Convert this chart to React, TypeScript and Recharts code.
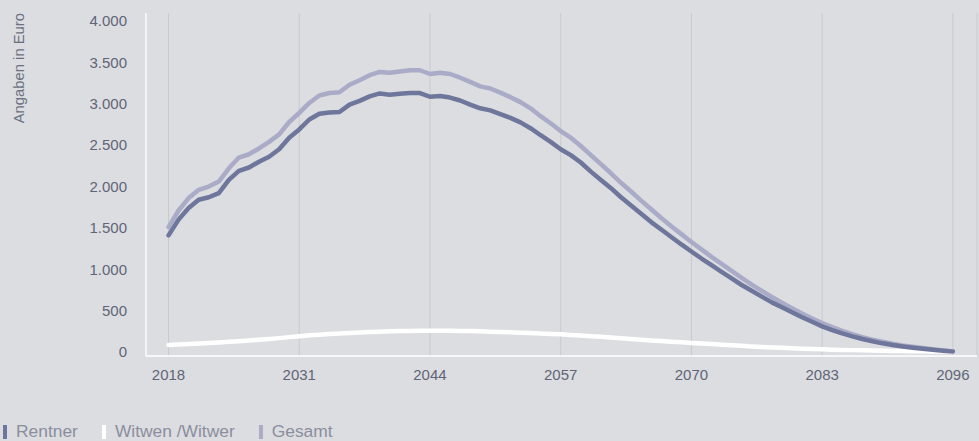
import React from "react"
import { LineChart, Line, XAxis, YAxis, CartesianGrid, Legend } from "recharts"

const years = Array.from({ length: 79 }, (_, i) => 2018 + i)

const rentner = [
  1410, 1600, 1740, 1840, 1870, 1920, 2080, 2190, 2230, 2300,
  2360, 2450, 2590, 2690, 2810, 2880, 2895, 2900, 2990, 3035,
  3090, 3125, 3110, 3120, 3130, 3130, 3085, 3095, 3075, 3040,
  2990, 2945, 2920, 2875, 2830, 2775, 2705, 2620, 2540, 2450,
  2380, 2290, 2180, 2080, 1980, 1870, 1770, 1670, 1570, 1480,
  1390, 1300, 1215, 1130, 1050, 970, 890, 810, 740, 670,
  600, 540, 480, 420, 365, 310, 265, 225, 190, 158,
  130, 105, 85, 68, 53, 40, 28, 16, 5,
]

const witwen = [
  85, 90, 96, 102, 108, 115, 123, 131, 140, 149,
  158, 168, 180, 192, 202, 210, 217, 224, 230, 236,
  241, 246, 250, 253, 255, 257, 258, 258, 257, 255,
  253, 250, 246, 242, 238, 234, 229, 224, 219, 214,
  207, 200, 192, 184, 176, 167, 158, 149, 140, 132,
  124, 117, 110, 103, 96, 89, 82, 75, 68, 62,
  56, 51, 46, 41, 37, 33, 29, 26, 23, 20,
  17, 15, 13, 11, 9, 8, 6, 5, 4,
]

const gesamt = [
  1510, 1710, 1860, 1960, 2000, 2060, 2220, 2350, 2390, 2460,
  2540, 2630, 2780, 2890, 3010, 3100, 3130, 3140, 3230, 3285,
  3345, 3385, 3375, 3390, 3405, 3405, 3360, 3375, 3360, 3315,
  3265, 3210, 3185, 3135, 3080, 3020, 2945, 2850, 2765, 2670,
  2590, 2490, 2380, 2270, 2160, 2045, 1940, 1830, 1725, 1620,
  1520, 1425, 1330, 1240, 1150, 1065, 980, 895, 815, 740,
  665, 595, 530, 465, 405, 350, 300, 255, 215, 180,
  150, 125, 100, 80, 63, 48, 34, 20, 8,
]

const xTicks = [2018, 2031, 2044, 2057, 2070, 2083, 2096]
const yTicks = [0, 500, 1000, 1500, 2000, 2500, 3000, 3500, 4000]

const series = [
  { key: "gesamt", name: "Gesamt", color: "#a9abc7" },
  { key: "witwen", name: "Witwen /Witwer", color: "#ffffff" },
  { key: "rentner", name: "Rentner", color: "#6f769b" },
]
const legendOrder = ["rentner", "witwen", "gesamt"]

const data = years.map((year, i) => ({
  year,
  rentner: rentner[i],
  witwen: witwen[i],
  gesamt: gesamt[i],
}))

const FONT = "'Liberation Sans', Arial, sans-serif"
const fmt = (v: number) => String(v).replace(/\B(?=(\d{3})+(?!\d))/g, ".")

function YLabel() {
  return (
    <text
      x={24}
      y={13}
      transform="rotate(-90, 24, 13)"
      textAnchor="end"
      fill="#6a7080"
      fontSize={14.8}
      fontFamily={FONT}
    >
      Angaben in Euro
    </text>
  )
}

function LegendContent() {
  return (
    <div style={{ position: "relative", height: 55, fontFamily: FONT }}>
      <div style={{ position: "absolute", left: 3, top: 37, display: "flex", alignItems: "center" }}>
        {legendOrder.map((k) => {
          const s = series.find((x) => x.key === k)!
          return (
            <div key={k} style={{ display: "flex", alignItems: "center", marginRight: 24 }}>
              <span style={{ display: "inline-block", width: 4, height: 14, background: s.color, marginRight: 9 }} />
              <span style={{ fontSize: 17.4, color: "#8a8e9e", lineHeight: "17px" }}>{s.name}</span>
            </div>
          )
        })}
      </div>
    </div>
  )
}

export default function App() {
  return (
    <div style={{ position: "absolute", left: 0, top: 0, width: 979, height: 441, background: "#dcdde1" }}>
      <LineChart width={979} height={441} data={data} margin={{ top: 13, right: 2, bottom: 0, left: 0 }}>
        <CartesianGrid horizontal={false} stroke="#c9cace" strokeWidth={1} />
        <XAxis
          dataKey="year"
          type="number"
          domain={[2015.76, 2098.4]}
          ticks={xTicks}
          tickLine={false}
          axisLine={{ stroke: "#ffffff", strokeWidth: 1.5 }}
          tickSize={0}
          tickMargin={13}
          height={30}
          tick={{ fill: "#5f6577", fontSize: 15, fontFamily: FONT }}
          interval={0}
        />
        <YAxis
          type="number"
          domain={[-48, 4097]}
          ticks={yTicks}
          tickFormatter={fmt}
          tickLine={false}
          axisLine={{ stroke: "#ffffff", strokeWidth: 1.5 }}
          tickSize={0}
          tickMargin={19}
          width={146}
          tick={{ fill: "#5f6577", fontSize: 15, fontFamily: FONT }}
          interval={0}
          label={<YLabel />}
        />
        {series.map((s) => (
          <Line
            key={s.key}
            type="linear"
            dataKey={s.key}
            name={s.name}
            stroke={s.color}
            strokeWidth={4.5}
            strokeLinecap="round"
            strokeLinejoin="round"
            dot={false}
            activeDot={false}
            isAnimationActive={false}
          />
        ))}
        <Legend
          verticalAlign="bottom"
          align="left"
          height={55}
          content={<LegendContent />}
          wrapperStyle={{ left: 0, bottom: 0, width: 979 }}
        />
      </LineChart>
    </div>
  )
}
